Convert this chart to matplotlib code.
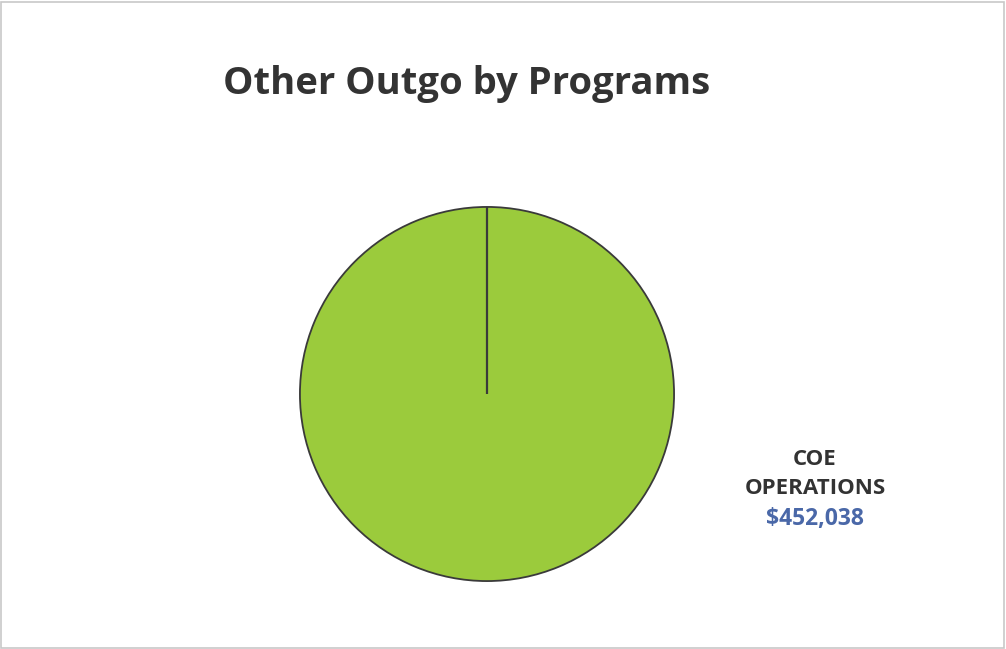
import matplotlib
matplotlib.use("Agg")
import numpy as np
import matplotlib.pyplot as plt
from matplotlib.patches import Rectangle

# Program breakdown
programs = ["COE\nOPERATIONS"]
amounts = [452038]
slice_colors = ["#9BCB3C"]

title = "Other Outgo by Programs"

W, H = 1006, 649
fig = plt.figure(figsize=(W / 100, H / 100), dpi=100)
fig.patch.set_facecolor("white")

# Chart frame
fig.patches.append(Rectangle((0.001, 0.002), 0.997, 0.995, transform=fig.transFigure,
                             fill=False, edgecolor="#C8C8C8", linewidth=1.2))

# Pie axes placed around a center of (487, 394) px with radius 188 px
cx, cy, r = 487, 394, 188
start = 90
ax = fig.add_axes([(cx - r) / W, (H - cy - r) / H, 2 * r / W, 2 * r / H])
ax.pie(amounts, colors=slice_colors, startangle=start, counterclock=False,
       radius=1.0, wedgeprops=dict(edgecolor="#3A3A3A", linewidth=1.3))

# Slice boundaries (a full single slice still shows its start edge)
fracs = np.cumsum([0] + amounts) / sum(amounts)
for f in fracs[:-1]:
    ang = np.deg2rad(start - 360 * f)
    ax.plot([0, np.cos(ang)], [0, np.sin(ang)], color="#3A3A3A", lw=1.6,
            solid_capstyle="butt")

ax.set_xlim(-1.005, 1.005)
ax.set_ylim(-1.005, 1.005)
ax.set_aspect("auto")
ax.axis("off")

fig.text(467 / W, 1 - 84 / H, title, ha="center", va="center",
         fontsize=27.5, fontweight="bold", color="#333333", family="Open Sans")

# Data label: category name and value
fig.text(815 / W, 1 - 474 / H, programs[0], ha="center", va="center",
         fontsize=16, fontweight="bold", color="#333333", family="Open Sans",
         linespacing=1.5)
fig.text(815 / W, 1 - 519 / H, "${:,}".format(amounts[0]), ha="center", va="center",
         fontsize=16.5, fontweight="bold", color="#4A68A8", family="Open Sans")

fig.savefig("out.png", dpi=100, facecolor="white")
